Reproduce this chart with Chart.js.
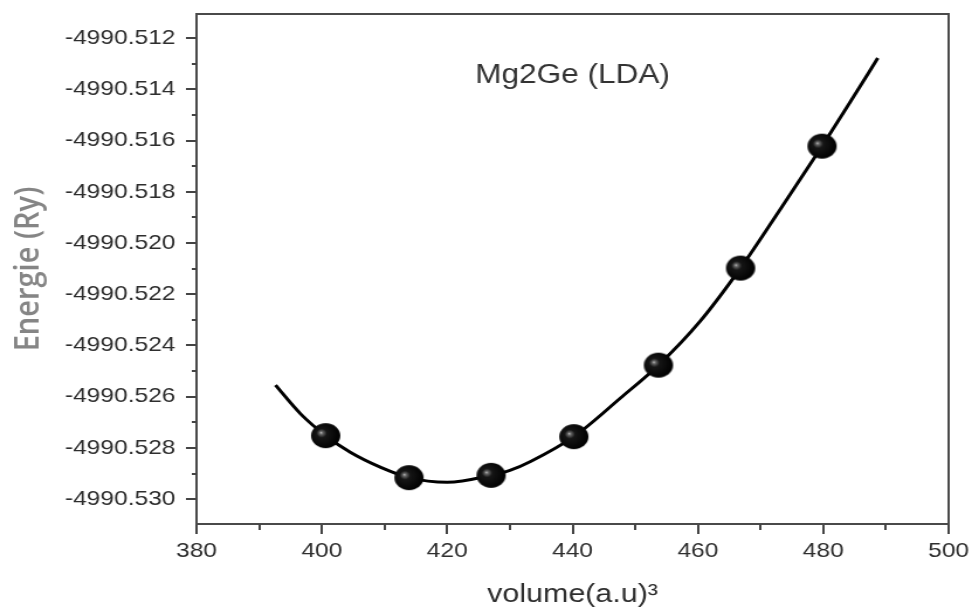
<!DOCTYPE html>
<html><head><meta charset="utf-8">
<script src="https://cdn.jsdelivr.net/npm/chart.js@4.4.1/dist/chart.umd.min.js"></script>
<style>html,body{margin:0;padding:0;background:#fff;overflow:hidden}</style>
</head><body>
<canvas id="c" width="831" height="610" style="width:972px;height:610px;display:block"></canvas>
<script>
// measured points
const volume = [400.6, 413.9, 427.0, 440.2, 453.7, 466.8, 479.8];
const energy = [-4990.52752, -4990.52916, -4990.52907, -4990.52756, -4990.52477, -4990.52098, -4990.51622];
// fitted curve
const fitVolume = [392.6, 396.6, 400.6, 404.6, 409.4, 413.9, 420.0, 427.0, 430.0, 433.3, 440.2, 447.7, 453.7, 460.3, 466.8, 473.2, 479.8, 484.4, 488.7];
const fitEnergy = [-4990.52555, -4990.52667, -4990.52752, -4990.52818, -4990.52876, -4990.52916, -4990.52934, -4990.52907, -4990.52888, -4990.52853, -4990.52756, -4990.52604, -4990.52477, -4990.52307, -4990.52098, -4990.51866, -4990.51622, -4990.51446, -4990.51278];
// axes
const xTicks = [380, 400, 420, 440, 460, 480, 500];
const xTickLabels = ['380', '400', '420', '440', '460', '480', '500'];
const yTicks = [-4990.530, -4990.528, -4990.526, -4990.524, -4990.522, -4990.520, -4990.518, -4990.516, -4990.514, -4990.512];
const yTickLabels = ['-4990.530', '-4990.528', '-4990.526', '-4990.524', '-4990.522', '-4990.520', '-4990.518', '-4990.516', '-4990.514', '-4990.512'];
const chartTitle = 'Mg2Ge (LDA)';
const xTitle = 'volume(a.u)\u00B3';
const yTitle = 'Energie (Ry)';

// shaded ball marker
function makeBall(r) {
  const s = Math.ceil(r * 2 + 2);
  const cv = document.createElement('canvas');
  cv.width = s; cv.height = s;
  const g = cv.getContext('2d');
  const c = s / 2;
  const grad = g.createRadialGradient(c - 4, c - 3, 0, c - 2, c - 1, r + 2);
  grad.addColorStop(0, '#c0c0c0');
  grad.addColorStop(0.1, '#666');
  grad.addColorStop(0.3, '#161616');
  grad.addColorStop(1, '#000');
  g.fillStyle = grad;
  g.beginPath(); g.arc(c, c, r, 0, Math.PI * 2); g.fill();
  return cv;
}
const ball = makeBall(12.5);

const framePlugin = {
  id: 'frame',
  beforeDatasetsDraw(chart) {
    const {ctx, chartArea: a} = chart;
    ctx.save();
    ctx.strokeStyle = '#4a4a4a';
    ctx.lineWidth = 2;
    ctx.strokeRect(a.left, a.top, a.right - a.left, a.bottom - a.top);
    ctx.restore();
  },
  afterDraw(chart) {
    const {ctx, chartArea: a, scales: {x, y}} = chart;
    ctx.save();
    ctx.strokeStyle = '#444';
    ctx.lineWidth = 2;
    ctx.beginPath();
    for (let i = 0; i < xTicks.length - 1; i++) {
      const px = Math.round(x.getPixelForValue((xTicks[i] + xTicks[i + 1]) / 2));
      ctx.moveTo(px, a.bottom); ctx.lineTo(px, a.bottom + 6);
    }
    for (let i = 0; i < yTicks.length - 1; i++) {
      const py = Math.round(y.getPixelForValue((yTicks[i] + yTicks[i + 1]) / 2));
      ctx.moveTo(a.left, py); ctx.lineTo(a.left - 4, py);
    }
    ctx.stroke();
    ctx.fillStyle = '#333';
    ctx.font = '27px "Liberation Sans", Arial, sans-serif';
    ctx.textAlign = 'center';
    ctx.textBaseline = 'alphabetic';
    ctx.fillText(chartTitle, (a.left + a.right) / 2, a.top + 69);
    ctx.restore();
  }
};

new Chart(document.getElementById('c'), {
  type: 'scatter',
  data: {
    datasets: [
      {
        data: volume.map((v, i) => ({x: v, y: energy[i]})),
        pointStyle: ball,
        pointRadius: 13,
        showLine: false,
        order: 0
      },
      {
        data: fitVolume.map((v, i) => ({x: v, y: fitEnergy[i]})),
        showLine: true,
        borderColor: '#000',
        borderWidth: 3,
        pointRadius: 0,
        cubicInterpolationMode: 'monotone',
        fill: false,
        order: 1
      }
    ]
  },
  options: {
    responsive: false,
    devicePixelRatio: 1,
    animation: false,
    layout: {padding: {left: 0, right: 20, top: 10, bottom: 0}},
    plugins: {legend: {display: false}, tooltip: {enabled: false}, title: {display: false}},
    scales: {
      x: {
        type: 'linear',
        min: 380, max: 500,
        afterBuildTicks: s => { s.ticks = xTicks.map(v => ({value: v})); },
        afterFit: s => { s.height = 86; s.paddingLeft = 0; s.paddingRight = 0; },
        ticks: {
          callback: (v, i) => xTickLabels[i],
          color: '#2e2e2e',
          font: {family: '"Liberation Sans", Arial, sans-serif', size: 21},
          padding: 5,
          maxRotation: 0, autoSkip: false
        },
        grid: {drawOnChartArea: false, drawTicks: true, tickLength: 10, color: '#444', lineWidth: 2},
        border: {display: false},
        title: {
          display: true, text: xTitle, color: '#2e2e2e',
          font: {family: '"Liberation Sans", Arial, sans-serif', size: 26, lineHeight: 1.2},
          padding: {top: 0, bottom: 0}
        }
      },
      y: {
        type: 'linear',
        min: -4990.53097, max: -4990.51106,
        afterBuildTicks: s => { s.ticks = yTicks.map(v => ({value: v})); },
        afterFit: s => { s.width = 168; s.paddingTop = 0; s.paddingBottom = 0; },
        ticks: {
          callback: (v, i) => yTickLabels[i],
          color: '#2e2e2e',
          font: {family: '"Liberation Sans", Arial, sans-serif', size: 21},
          padding: 9,
          autoSkip: false
        },
        grid: {drawOnChartArea: false, drawTicks: true, tickLength: 9, color: '#444', lineWidth: 2},
        border: {display: false},
        title: {
          display: true, text: yTitle, color: '#858585',
          font: {family: '"Open Sans", sans-serif', size: 29, weight: '600', lineHeight: 1.2},
          padding: {top: 7, bottom: 0}
        }
      }
    }
  },
  plugins: [framePlugin]
});
</script>
</body></html>
